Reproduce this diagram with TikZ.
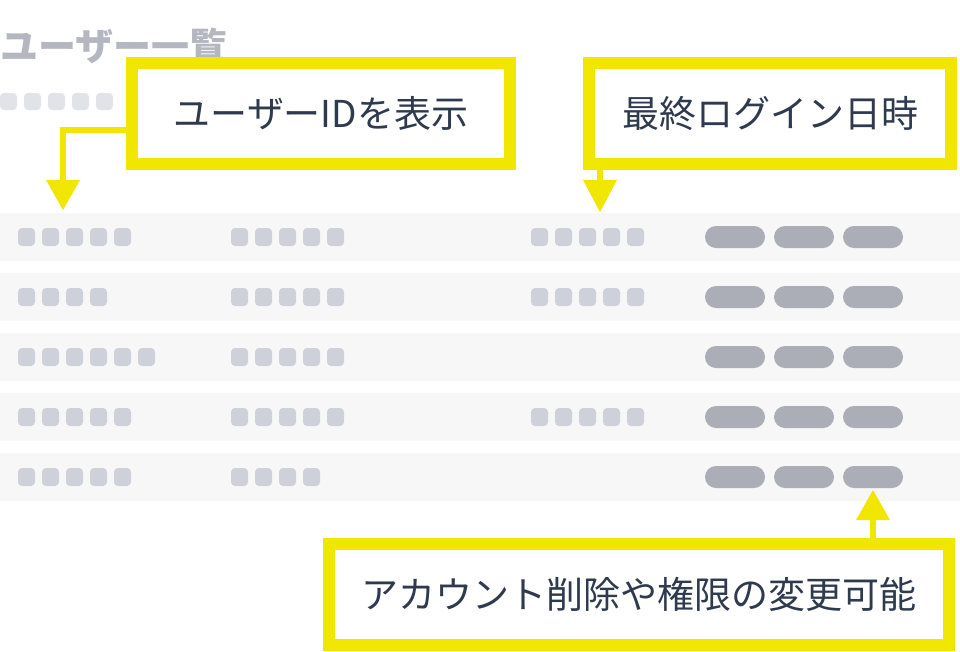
\documentclass[tikz,border=0pt]{standalone}
\usepackage{fontspec}
\setmainfont{Noto Sans CJK JP}
\usetikzlibrary{positioning}
\definecolor{callout}{HTML}{F0E600}
\definecolor{ink}{HTML}{2F3A4F}
\definecolor{rowbg}{HTML}{F7F7F8}
\definecolor{dotc}{HTML}{CFD1DA}
\definecolor{pillc}{HTML}{ABAEB7}
\definecolor{titlec}{HTML}{B4B7C0}
\begin{document}
\begin{tikzpicture}[x=1pt, y=-1pt,
  note/.style = {draw=callout, line width=12pt, fill=white, text=ink, font=\fontsize{37}{40}\selectfont},
  dot/.style = {fill=dotc, rounded corners=4pt},
  pill/.style = {fill=pillc, rounded corners=11pt},
  lead/.style = {draw=callout, line width=6pt},
  tip/.style = {fill=callout}]
\useasboundingbox (0,0) rectangle (960,651);

% title and placeholder
\node[anchor=west, text=titlec, font=\bfseries\fontsize{38}{40}\selectfont, inner sep=0pt] (title) at (0,46) {ユーザー一覧};
\foreach \i in {0,...,4}
  \fill[dot, fill=dotc!60] (0+24*\i,93) rectangle ++(17,17);

% rows
\foreach \r/\a/\b/\c in {0/5/5/5, 1/4/5/5, 2/6/5/0, 3/5/5/5, 4/5/4/0} {
  \fill[rowbg] (0,213+60*\r) rectangle (960,261+60*\r);
  \foreach \i in {1,...,\a}
    \fill[dot] (18+24*\i-24,228+60*\r) rectangle ++(17,18);
  \foreach \i in {1,...,\b}
    \fill[dot] (231+24*\i-24,228+60*\r) rectangle ++(17,18);
  \ifnum\c>0
    \foreach \i in {1,...,\c}
      \fill[dot] (531+24*\i-24,228+60*\r) rectangle ++(17,18);
  \fi
  \foreach \k in {0,1,2}
    \fill[pill] (705+69*\k,226+60*\r) rectangle ++(60,22);
}

% callouts
\node[note, minimum width=378pt, minimum height=101pt] (idnote) at (321,113.5) {ユーザーIDを表示};
\node[note, minimum width=362pt, minimum height=101pt] (loginnote) at (770,113.5) {最終ログイン日時};
\node[note, minimum width=620pt, minimum height=101pt] (opnote) at (639,594) {アカウント削除や権限の変更可能};

\coordinate (idtip) at (63,210);
\coordinate (logintip) at (600,212);
\coordinate (optip) at (873,490);

\draw[lead] (idnote.west |- 0,130) -- (63,130) -- (63,182);
\fill[tip] (46,180) -- (80,180) -- (idtip) -- cycle;
\draw[lead] (loginnote.south -| logintip) -- (600,182);
\fill[tip] (583,180) -- (617,180) -- (logintip) -- cycle;
\draw[lead] (opnote.north -| optip) -- (873,518);
\fill[tip] (856,520) -- (890,520) -- (optip) -- cycle;
\end{tikzpicture}
\end{document}
